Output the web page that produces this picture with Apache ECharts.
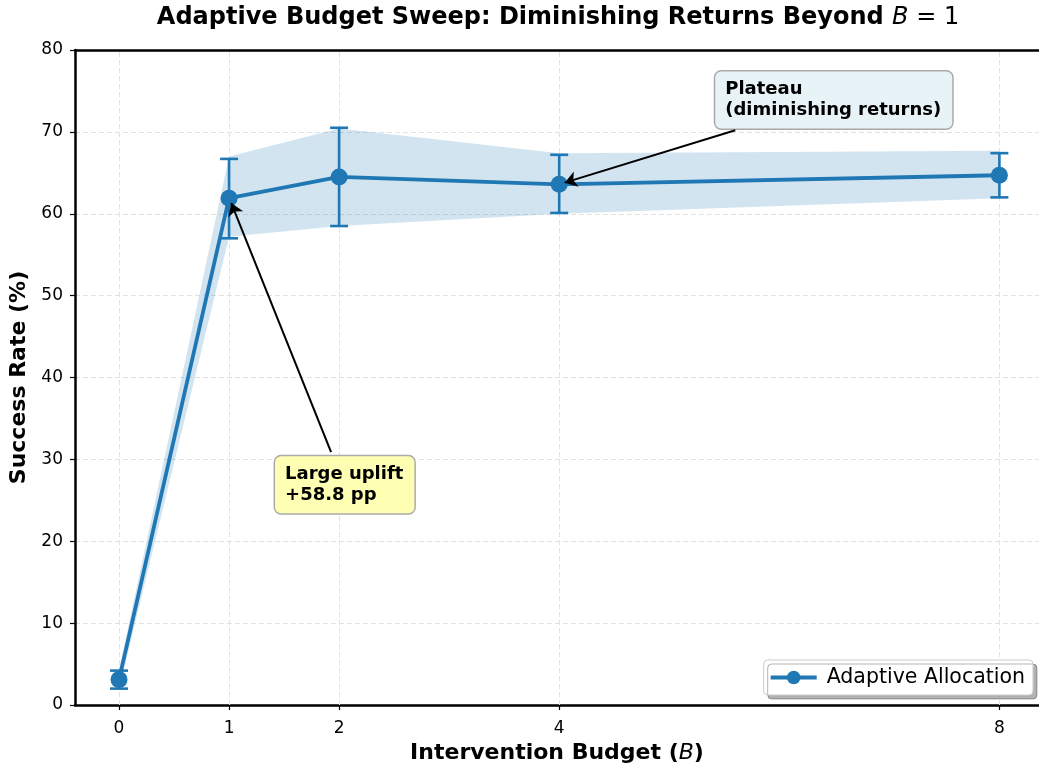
<!DOCTYPE html>
<html>
<head>
<meta charset="utf-8">
<script src="https://cdn.jsdelivr.net/npm/echarts@6/dist/echarts.min.js"></script>
<style>
html,body{margin:0;padding:0;background:#fff;}
#chart{width:1039px;height:770px;}
</style>
</head>
<body>
<div id="chart"></div>
<script>
// ---- data ----
const budgets = [0, 1, 2, 4, 8];
const successMean = [3.1, 61.9, 64.5, 63.6, 64.7];
const errLower = [2.0, 57.0, 58.5, 60.1, 62.0];
const errUpper = [4.2, 66.7, 70.5, 67.2, 67.4];
const bandLower = [1.9, 57.2, 58.5, 60.0, 61.9];
const bandUpper = [4.3, 67.0, 70.4, 67.4, 67.7];
const xTickValues = [0, 1, 2, 4, 8];
const seriesName = 'Adaptive Allocation';

// annotations (data coordinates)
const annoTexts = ['Large uplift\n+58.8 pp', 'Plateau\n(diminishing returns)'];
const annoBoxAnchor = [[1.418, 26.9], [5.418, 73.9]];
const arrowStart = [[1.927, 30.9], [5.6, 70.2]];
const arrowEnd = [[1.02, 61.3], [4.05, 63.8]];
const annoFill = ['#ffffb3', '#e7f3f7'];

const BLUE = '#1f77b4';
const FONT = 'DejaVu Sans';
const GRIDC = '#e2e2e2';

const chart = echarts.init(document.getElementById('chart'), null, {renderer: 'canvas'});

const bandData = budgets.map((b, i) => [b, bandLower[i], bandUpper[i]]);
const errData = budgets.map((b, i) => [b, errLower[i], errUpper[i]]);
const lineData = budgets.map((b, i) => [b, successMean[i]]);

const option = {
  animation: false,
  textStyle: {fontFamily: FONT},
  title: {
    text: '{b|Adaptive Budget Sweep: Diminishing Returns Beyond }{i|B}{n| = 1}',
    left: 553,
    textAlign: 'center',
    top: 1,
    textStyle: {
      rich: {
        b: {fontFamily: FONT, fontWeight: 'bold', fontSize: 24, color: '#000'},
        i: {fontFamily: FONT, fontStyle: 'italic', fontWeight: 'normal', fontSize: 24, color: '#000'},
        n: {fontFamily: FONT, fontWeight: 'normal', fontSize: 24, color: '#000'}
      }
    }
  },
  grid: {left: 75, right: 0, top: 50, bottom: 65, containLabel: false, outerBoundsMode: 'none'},
  legend: {
    data: [seriesName],
    right: 6,
    bottom: 75,
    orient: 'horizontal',
    itemWidth: 46,
    itemHeight: 17,
    itemGap: 10,
    padding: [7, 8, 7, 5],
    backgroundColor: '#fff',
    borderColor: '#cccccc',
    borderWidth: 1,
    borderRadius: 4,
    shadowColor: 'rgba(0,0,0,0.3)',
    shadowOffsetX: 4,
    shadowOffsetY: 4,
    shadowBlur: 0,
    lineStyle: {width: 4},
    textStyle: {fontFamily: FONT, fontSize: 20.5, color: '#000', padding: [0, 0, 0, 5]}
  },
  xAxis: [{
    type: 'value',
    min: -0.4,
    max: 8.36,
    name: '{b|Intervention Budget (}{i|B}{b|)}',
    nameLocation: 'middle',
    nameGap: 37,
    nameTextStyle: {
      rich: {
        b: {fontFamily: FONT, fontWeight: 'bold', fontSize: 22, color: '#000'},
        i: {fontFamily: FONT, fontStyle: 'italic', fontWeight: 'normal', fontSize: 22, color: '#000'}
      }
    },
    axisLine: {show: true, onZero: false, lineStyle: {color: '#000', width: 2.5}},
    axisTick: {show: true, customValues: xTickValues, length: 5, lineStyle: {color: '#000', width: 1.2}},
    axisLabel: {customValues: xTickValues, fontFamily: FONT, fontSize: 17, color: '#000', margin: 15},
    splitLine: {show: false}
  }, {
    type: 'value',
    position: 'top',
    min: -0.4,
    max: 8.36,
    axisLine: {show: true, onZero: false, lineStyle: {color: '#000', width: 2.5}},
    axisTick: {show: false},
    axisLabel: {show: false},
    splitLine: {show: false}
  }],
  yAxis: {
    type: 'value',
    min: 0,
    max: 80,
    interval: 10,
    name: 'Success Rate (%)',
    nameLocation: 'middle',
    nameGap: 45,
    nameTextStyle: {fontFamily: FONT, fontWeight: 'bold', fontSize: 22, color: '#000'},
    axisLine: {show: true, onZero: false, lineStyle: {color: '#000', width: 2.5}},
    axisTick: {show: true, length: 5, lineStyle: {color: '#000', width: 1.2}},
    axisLabel: {fontFamily: FONT, fontSize: 17, color: '#000', margin: 12},
    splitLine: {show: true, lineStyle: {color: GRIDC, width: 1, type: [5, 3]}}
  },
  series: [
    {
      type: 'custom',
      name: 'band',
      z: 1,
      silent: true,
      data: bandData,
      encode: {x: 0, y: [1, 2]},
      renderItem: function (params, api) {
        if (params.dataIndex !== 0) return null;
        const pts = [];
        for (let i = 0; i < bandData.length; i++) pts.push(api.coord([bandData[i][0], bandData[i][2]]));
        for (let i = bandData.length - 1; i >= 0; i--) pts.push(api.coord([bandData[i][0], bandData[i][1]]));
        return {type: 'polygon', shape: {points: pts}, style: {fill: 'rgba(31,119,180,0.2)'}};
      },
      markLine: {
        z: 1,
        silent: true,
        symbol: 'none',
        label: {show: false},
        lineStyle: {color: GRIDC, width: 1, type: [5, 3]},
        data: xTickValues.map(v => ({xAxis: v}))
      }
    },
    {
      type: 'custom',
      name: 'errorbars',
      z: 3,
      silent: true,
      data: errData,
      encode: {x: 0, y: [1, 2]},
      renderItem: function (params, api) {
        const x = api.value(0);
        const lo = api.coord([x, api.value(1)]);
        const hi = api.coord([x, api.value(2)]);
        const cap = 9;
        const st = {stroke: BLUE, lineWidth: 2.6, fill: null};
        return {
          type: 'group',
          children: [
            {type: 'line', shape: {x1: lo[0], y1: lo[1], x2: hi[0], y2: hi[1]}, style: st},
            {type: 'line', shape: {x1: lo[0] - cap, y1: lo[1], x2: lo[0] + cap, y2: lo[1]}, style: st},
            {type: 'line', shape: {x1: hi[0] - cap, y1: hi[1], x2: hi[0] + cap, y2: hi[1]}, style: st}
          ]
        };
      }
    },
    {
      type: 'line',
      name: seriesName,
      z: 4,
      data: lineData,
      symbol: 'circle',
      symbolSize: 17,
      showSymbol: true,
      lineStyle: {color: BLUE, width: 3.8},
      itemStyle: {color: BLUE},
      emphasis: {disabled: true}
    },
    {
      type: 'scatter',
      name: 'annotations',
      z: 6,
      silent: true,
      symbolSize: 0,
      itemStyle: {color: '#000', opacity: 1},
      data: annoBoxAnchor.map((p, i) => ({
        value: p,
        label: {
          show: true,
          position: 'right',
          distance: 0,
          formatter: annoTexts[i],
          fontFamily: FONT,
          fontWeight: 'bold',
          fontSize: 18,
          lineHeight: 21,
          color: '#000000',
          opacity: 1,
          textBorderWidth: 0,
          backgroundColor: annoFill[i],
          borderColor: '#aaaaaa',
          borderWidth: 1.5,
          borderRadius: 6,
          padding: [8, 11, 7, 10]
        }
      })),
      markLine: {
        z: 10,
        silent: true,
        symbol: ['none', 'arrow'],
        symbolSize: 12,
        label: {show: false},
        lineStyle: {color: '#000', width: 2, type: 'solid'},
        data: arrowStart.map((s, i) => [{coord: s}, {coord: arrowEnd[i]}])
      }
    }
  ]
};
chart.setOption(option);
</script>
</body>
</html>
